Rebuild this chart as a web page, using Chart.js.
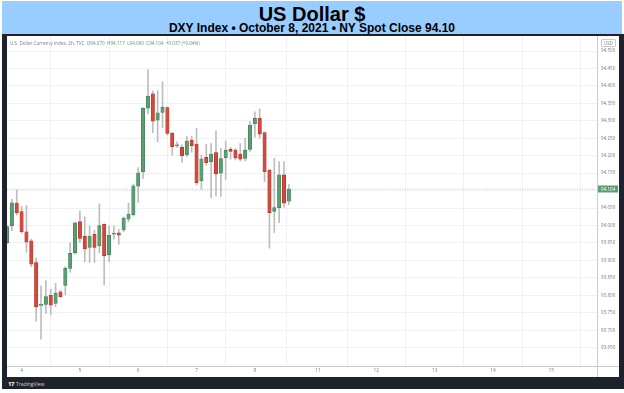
<!DOCTYPE html>
<html>
<head>
<meta charset="utf-8">
<script src="https://cdn.jsdelivr.net/npm/chart.js@4.4.1/dist/chart.umd.min.js"></script>
<style>
  html, body { margin: 0; padding: 0; background: #fff; }
  #page { position: relative; width: 624px; height: 393px; overflow: hidden; font-family: "Liberation Sans", Arial, sans-serif; }
  #banner { position: absolute; left: 2px; top: 1px; width: 620px; height: 33px; background: #99ccff; text-align: center; }
  #title { position: absolute; left: 0; right: 0; top: 2px; font-size: 20px; font-weight: bold; line-height: 22px; color: #000; }
  #subtitle { position: absolute; left: 0; right: 0; top: 20px; font-size: 12px; font-weight: bold; line-height: 14px; color: #000; }
  #frame { position: absolute; left: 2px; top: 34px; width: 622px; height: 355px; background: #1e222d; }
  #panel { position: absolute; left: 7px; top: 36px; width: 612px; height: 341px; background: #fff; }
  #chartBox { position: absolute; left: 7px; top: 36px; width: 612px; height: 341px; }
  #legend { position: absolute; left: 10px; top: 40px; font-family: "Open Sans", sans-serif; font-size: 4.6px; color: #787b86; white-space: nowrap; }
  #legend .v { color: #4f9a6a; }
  #usd { position: absolute; left: 601px; top: 39px; width: 13px; height: 6px; border: 0.5px solid #c8cad0; border-radius: 1px; font-family: "Open Sans", sans-serif; font-size: 4.4px; line-height: 6px; text-align: center; color: #787b86; }
  #tv { position: absolute; left: 8px; top: 380px; font-family: "Open Sans", sans-serif; font-size: 5px; color: #d1d4dc; white-space: nowrap; }
  #tv b { font-size: 6px; letter-spacing: -0.5px; margin-right: 2px; color: #fff; }
</style>
</head>
<body>
<div id="page">
  <div id="banner">
    <div id="title">US Dollar $</div>
    <div id="subtitle">DXY Index • October 8, 2021 • NY Spot Close 94.10</div>
  </div>
  <div id="frame"></div>
  <div id="panel"></div>
  <div id="chartBox"><canvas id="candles" width="612" height="341"></canvas></div>
  <div id="legend">U.S. Dollar Currency Index, 2h, TVC&nbsp;&nbsp;<span class="v">O94.070&nbsp; H94.117&nbsp; L94.060&nbsp; C94.104&nbsp; +0.037 (+0.04%)</span></div>
  <div id="usd">USD</div>
  <div id="tv"><b>17</b>TradingView</div>
</div>
<script>
// 2h candles, slot 0 = first bar of Oct 4
const firstSlot = -3;
const opens = [93.951, 93.999, 94.064, 94.040, 93.982, 93.956, 93.894, 93.771, 93.774, 93.800,
  93.777, 93.810, 93.828, 93.877, 93.922, 94.011, 93.970, 93.937, 93.975, 93.942,
  94.003, 93.916, 93.975, 93.979, 93.987, 94.018, 94.031, 94.113, 94.154, 94.336,
  94.377, 94.302, 94.324, 94.338, 94.265, 94.228, 94.224, 94.203, 94.245, 94.233,
  94.128, 94.195, 94.183, 94.209, 94.150, 94.194, 94.218, 94.216, 94.205, 94.192,
  94.218, 94.291, 94.307, 94.266, 94.159, 94.040, 94.051, 94.145, 94.070];
const highs = [94.000, 94.075, 94.102, 94.054, 94.057, 93.961, 93.906, 93.827, 93.842, 93.817,
  93.834, 93.815, 93.882, 93.951, 94.010, 94.041, 94.025, 93.999, 93.987, 94.062,
  94.005, 93.999, 93.999, 93.989, 94.025, 94.064, 94.119, 94.166, 94.338, 94.446,
  94.385, 94.386, 94.412, 94.340, 94.267, 94.240, 94.231, 94.255, 94.256, 94.278,
  94.202, 94.233, 94.235, 94.271, 94.221, 94.242, 94.224, 94.221, 94.235, 94.250,
  94.298, 94.326, 94.334, 94.268, 94.161, 94.192, 94.183, 94.183, 94.117];
const lows = [93.948, 93.985, 94.030, 93.978, 93.923, 93.882, 93.726, 93.674, 93.748, 93.744,
  93.767, 93.794, 93.801, 93.866, 93.918, 93.951, 93.896, 93.894, 93.894, 93.922,
  93.830, 93.896, 93.961, 93.946, 93.982, 94.011, 94.027, 94.066, 94.135, 94.320,
  94.266, 94.240, 94.280, 94.259, 94.202, 94.224, 94.181, 94.197, 94.210, 94.116,
  94.104, 94.173, 94.080, 94.085, 94.083, 94.132, 94.190, 94.188, 94.185, 94.185,
  94.212, 94.253, 94.250, 94.126, 93.935, 93.980, 94.008, 94.052, 94.060];
const closes = [93.997, 94.065, 94.037, 93.982, 93.952, 93.889, 93.767, 93.773, 93.796, 93.772,
  93.806, 93.796, 93.877, 93.920, 94.008, 93.963, 93.933, 93.970, 93.937, 94.000,
  93.913, 93.972, 93.976, 93.972, 94.021, 94.033, 94.114, 94.151, 94.336, 94.371,
  94.299, 94.323, 94.339, 94.264, 94.226, 94.230, 94.200, 94.242, 94.229, 94.123,
  94.191, 94.180, 94.204, 94.148, 94.192, 94.216, 94.212, 94.194, 94.190, 94.216,
  94.288, 94.307, 94.262, 94.154, 94.037, 94.051, 94.145, 94.064, 94.104];

// x axis: day labels and the slot where each day starts
const dayLabels = ['4', '5', '6', '7', '8', '11', '12', '13', '14', '15'];
const daySlots = [0, 12, 24, 36, 48, 61, 73, 85, 97, 109];
// y axis tick labels
const priceTicks = [93.65, 93.70, 93.75, 93.80, 93.85, 93.90, 93.95, 94.00, 94.05,
  94.10, 94.15, 94.20, 94.25, 94.30, 94.35, 94.40, 94.45, 94.50];

const xMin = -3.0, xMax = 118.4;
const yMin = 93.5974, yMax = 94.543;

const upColor = '#5b9e74', upBorder = '#3e7a54';
const downColor = '#d4493b', downBorder = '#a8352a';
const wickColor = '#bdbdbd';

const slots = closes.map((c, i) => firstSlot + i);
const isUp = closes.map((c, i) => c >= opens[i]);
const lastClose = closes[closes.length - 1];

const extras = {
  id: 'extras',
  afterDraw(chart) {
    const { ctx, chartArea, scales } = chart;
    const w = chart.width, h = chart.height;
    ctx.save();
    ctx.strokeStyle = '#c8cad0';
    ctx.lineWidth = 1;
    ctx.beginPath();
    ctx.moveTo(chartArea.right, chartArea.bottom + 0.5);
    ctx.lineTo(w, chartArea.bottom + 0.5);
    ctx.moveTo(chartArea.right + 0.5, chartArea.bottom);
    ctx.lineTo(chartArea.right + 0.5, h);
    ctx.stroke();

    const y = Math.round(scales.y.getPixelForValue(lastClose));
    ctx.fillStyle = '#5a9e72';
    ctx.fillRect(chartArea.right + 1, y - 3.5, w - chartArea.right - 2, 7);
    ctx.fillStyle = '#fff';
    ctx.font = '4.6px "Open Sans"';
    ctx.textBaseline = 'middle';
    ctx.textAlign = 'left';
    ctx.fillText(lastClose.toFixed(3), chartArea.right + 4, y + 0.3);
    ctx.restore();
  }
};

Chart.defaults.font.family = '"Open Sans", sans-serif';

new Chart(document.getElementById('candles'), {
  type: 'bar',
  data: {
    datasets: [
      {
        type: 'line',
        data: [{ x: xMin, y: lastClose }, { x: xMax, y: lastClose }],
        borderColor: 'rgba(90, 158, 114, 0.45)',
        borderWidth: 1,
        borderDash: [1, 1.5],
        pointRadius: 0,
        order: 3,
      },
      {
        data: slots.map((s, i) => ({ x: s, y: [lows[i], highs[i]] })),
        backgroundColor: wickColor,
        barThickness: 1,
        grouped: false,
        order: 2,
      },
      {
        data: slots.map((s, i) => ({ x: s, y: [opens[i], closes[i]] })),
        backgroundColor: isUp.map(u => u ? upColor : downColor),
        borderColor: isUp.map(u => u ? upBorder : downBorder),
        borderWidth: 0.6,
        borderSkipped: false,
        barThickness: 3.4,
        minBarLength: 1,
        grouped: false,
        order: 1,
      },
    ],
  },
  options: {
    responsive: false,
    animation: false,
    devicePixelRatio: 1,
    layout: { padding: 0 },
    plugins: { legend: { display: false }, tooltip: { enabled: false } },
    scales: {
      x: {
        type: 'linear',
        min: xMin,
        max: xMax,
        offset: false,
        grid: { color: '#f0f1f4', drawTicks: false },
        border: { display: true, color: '#c8cad0' },
        afterBuildTicks: (scale) => { scale.ticks = daySlots.map(v => ({ value: v })); },
        ticks: {
          autoSkip: false,
          maxRotation: 0,
          padding: 2,
          color: '#787b86',
          font: { size: 4.8 },
          callback: (v) => dayLabels[daySlots.indexOf(v)],
        },
        afterFit: (scale) => {
          scale.height = 11;
          scale.paddingLeft = 0;
          scale.paddingRight = 0;
        },
      },
      y: {
        position: 'right',
        min: yMin,
        max: yMax,
        grid: { color: '#f0f1f4', drawTicks: false },
        border: { display: true, color: '#c8cad0' },
        afterBuildTicks: (scale) => { scale.ticks = priceTicks.map(v => ({ value: v })); },
        ticks: {
          padding: 4,
          color: '#787b86',
          font: { size: 4.6 },
          callback: (v) => v.toFixed(3),
        },
        afterFit: (scale) => {
          scale.width = 22;
          scale.paddingTop = 0;
          scale.paddingBottom = 0;
        },
      },
    },
  },
  plugins: [extras],
});
</script>
</body>
</html>
